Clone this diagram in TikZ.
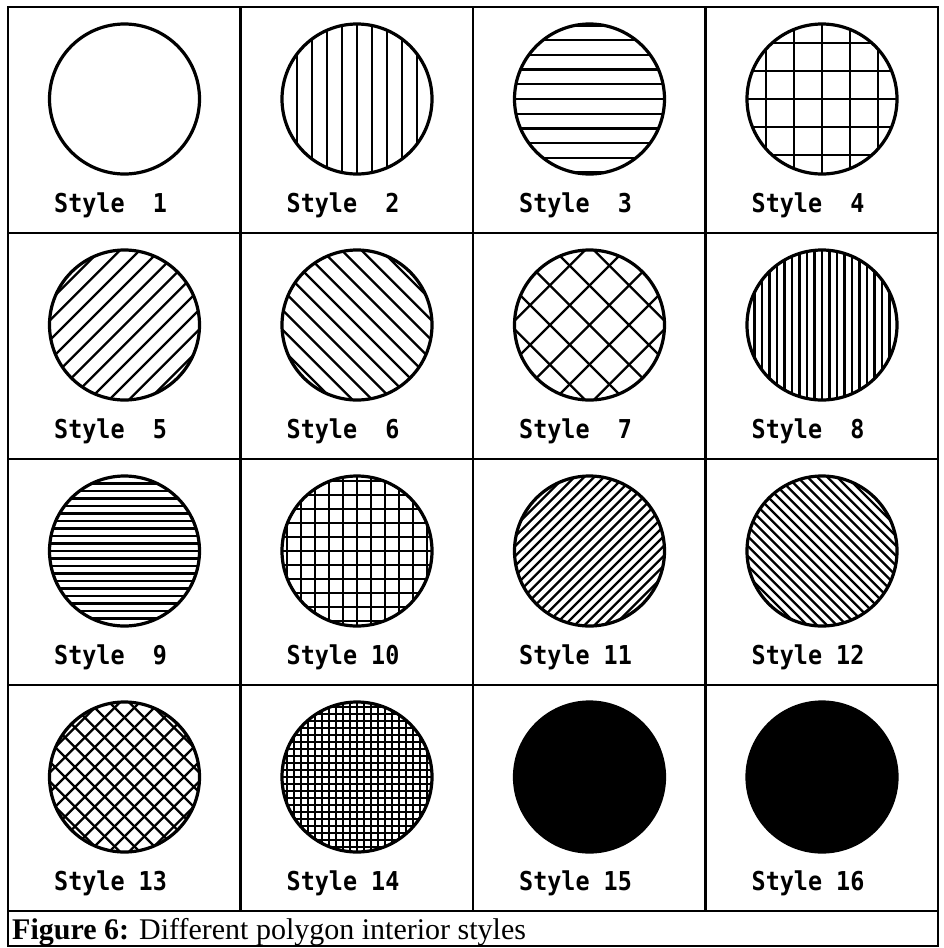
\documentclass[tikz,border=0pt]{standalone}
\usepackage{fontspec}
\setmainfont{Liberation Serif}
\newfontfamily\plotterfont{DejaVu Sans Mono}[FakeStretch=0.9]
\usetikzlibrary{positioning}

% parallel hatch lines inside a disc: angle, spacing
\newcommand\hatchlines[2]{%
  \pgfmathtruncatemacro\hatchcount{80/#2+1}%
  \begin{scope}[shift={(path picture bounding box.center)}]
    \foreach \k in {-\hatchcount,...,\hatchcount}
      \draw[hatchline] ({\k*#2*cos(#1)-90*sin(#1)}, {\k*#2*sin(#1)+90*cos(#1)})
        -- ({\k*#2*cos(#1)+90*sin(#1)}, {\k*#2*sin(#1)-90*cos(#1)});
  \end{scope}}

\tikzset{
  frame/.style={line width=2.5pt},
  disc/.style={circle, draw, line width=3.2pt, minimum size=150pt, inner sep=0pt},
  hatchline/.style={line width=2.3pt},
  blank/.style={},
  filled/.style={fill=black},
  vhatch/.style={path picture={\hatchlines{0}{#1}}},
  hhatch/.style={path picture={\hatchlines{90}{#1}}},
  gridhatch/.style={path picture={\hatchlines{0}{#1}\hatchlines{90}{#1}}},
  rhatch/.style={path picture={\hatchlines{45}{#1}}},
  lhatch/.style={path picture={\hatchlines{-45}{#1}}},
  crosshatch/.style={path picture={\hatchlines{45}{#1}\hatchlines{-45}{#1}}},
  stylelabel/.style={anchor=base west, inner sep=0pt,
    font=\fontsize{26}{30}\selectfont\plotterfont\bfseries},
  caption/.style={anchor=base west, inner sep=0pt,
    font=\fontsize{30}{34}\selectfont}
}

\begin{document}
\begin{tikzpicture}[x=1pt, y=-1pt]
\useasboundingbox (0,0) rectangle (944,948);

% the sixteen discs and their labels
\foreach \num/\kind/\gap [count=\i from 0] in {1/blank/0, 2/vhatch/15, 3/hhatch/14.7, 4/gridhatch/28,
    5/rhatch/14, 6/lhatch/14, 7/crosshatch/28, 8/vhatch/7.5,
    9/hhatch/7.5, 10/gridhatch/14, 11/rhatch/7, 12/lhatch/7,
    13/crosshatch/14, 14/gridhatch/7, 15/filled/0, 16/filled/0}{
  \pgfmathsetmacro\cellx{8+mod(\i,4)*232.5}
  \pgfmathsetmacro\celly{7+div(\i,4)*226}
  \node[disc, \kind=\gap] (disc\num) at (\cellx+116.5, \celly+92) {};
  \node[stylelabel] (label\num) at (\cellx+46, \celly+205) {Style \ifnum\num<10 \phantom{0}\fi\num};
}

% table rules
\draw[frame] (8,7) rectangle (938,946);
\foreach \c in {1,2,3}
  \draw[frame] (8+\c*232.5,7) -- (8+\c*232.5,911);
\foreach \r in {1,...,4}
  \draw[frame] (8,7+\r*226) -- (938,7+\r*226);

\node[caption] (figcaption) at (12,939) {\textbf{Figure 6:} Different polygon interior styles};
\end{tikzpicture}
\end{document}
